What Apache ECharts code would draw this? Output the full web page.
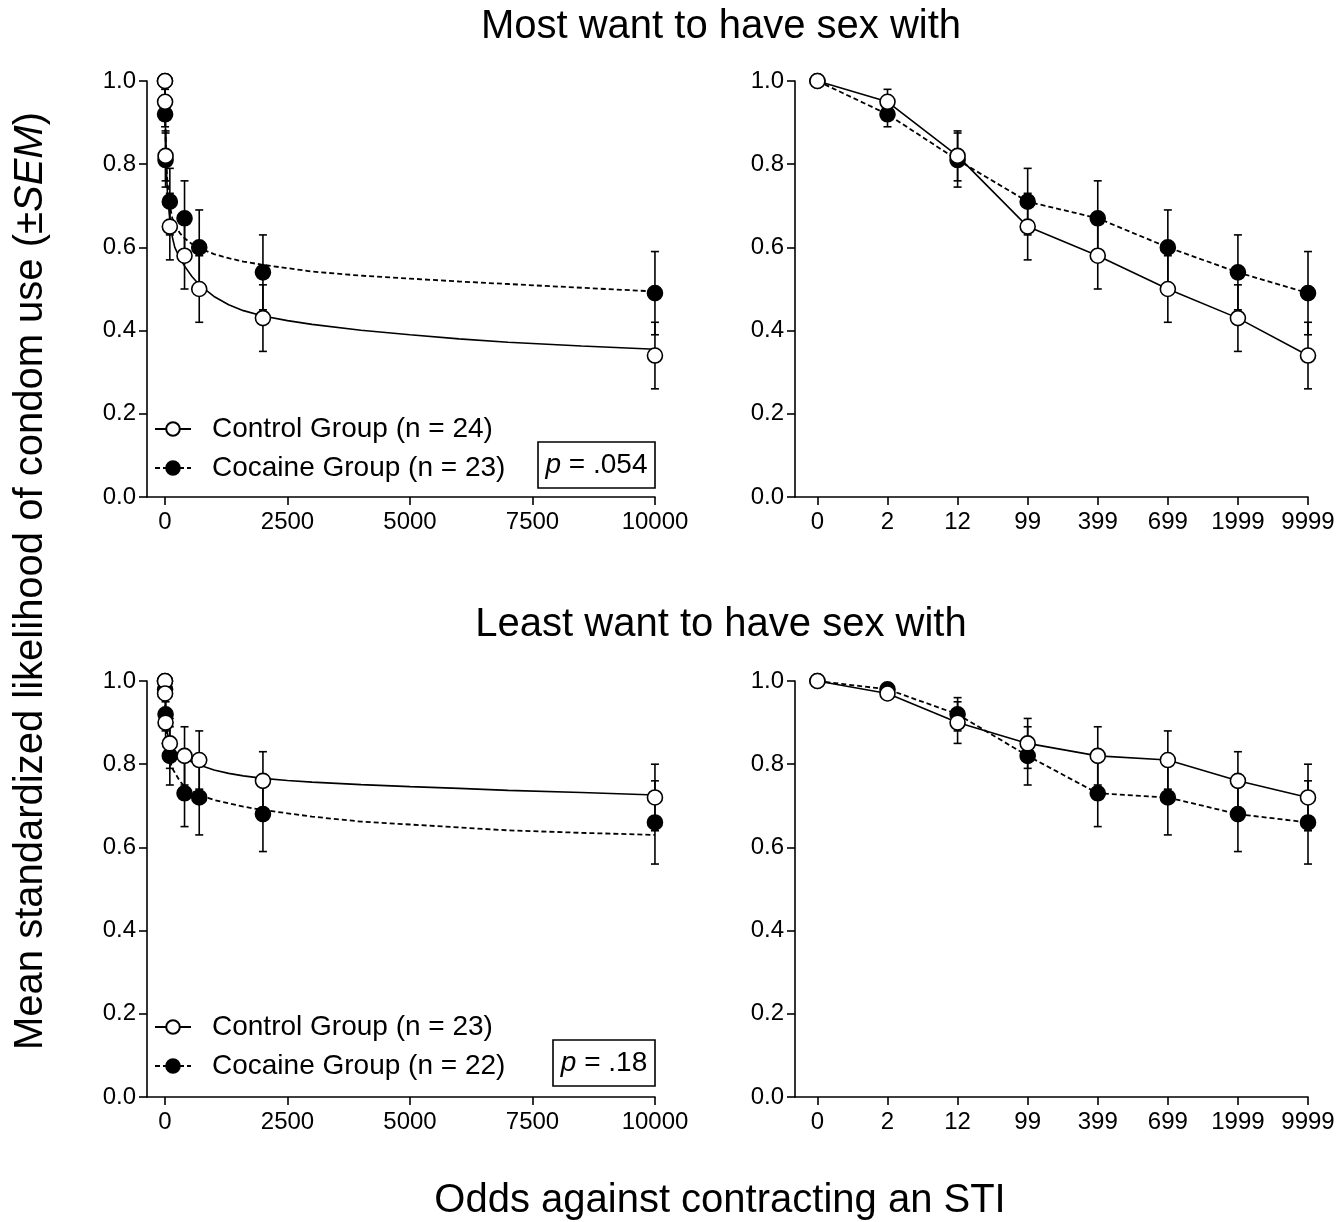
<!DOCTYPE html>
<html>
<head>
<meta charset="utf-8">
<script src="https://cdn.jsdelivr.net/npm/echarts@6/dist/echarts.min.js"></script>
<style>
html,body{margin:0;padding:0;background:#fff;}
#chart{width:1338px;height:1222px;}
</style>
</head>
<body>
<div id="chart"></div>
<script>
// ---------- data ----------
const odds = [0, 2, 12, 99, 399, 699, 1999, 9999];
const oddsLabels = ['0', '2', '12', '99', '399', '699', '1999', '9999'];
const leftTicks = [0, 2500, 5000, 7500, 10000];

const mostControl    = [1.00, 0.95, 0.82, 0.65, 0.58, 0.50, 0.43, 0.34];
const mostControlSem = [0, 0.03, 0.06, 0.08, 0.08, 0.08, 0.08, 0.08];
const mostCocaine    = [1.00, 0.92, 0.81, 0.71, 0.67, 0.60, 0.54, 0.49];
const mostCocaineSem = [0, 0.03, 0.065, 0.08, 0.09, 0.09, 0.09, 0.10];

const leastControl    = [1.00, 0.97, 0.90, 0.85, 0.82, 0.81, 0.76, 0.72];
const leastControlSem = [0, 0.01, 0.05, 0.06, 0.07, 0.07, 0.07, 0.08];
const leastCocaine    = [1.00, 0.98, 0.92, 0.82, 0.73, 0.72, 0.68, 0.66];
const leastCocaineSem = [0, 0.01, 0.04, 0.07, 0.08, 0.09, 0.09, 0.10];

// fitted curves (values at these odds)
const fitX = [0, 5, 12, 25, 50, 99, 150, 200, 300, 400, 550, 700, 1000, 1300, 1600, 2000, 2500, 3000, 4000, 5000, 6000, 7000, 8500, 10000];
const mostControlFit  = [1.00, 0.93, 0.87, 0.80, 0.73, 0.665, 0.625, 0.60, 0.575, 0.555, 0.53, 0.51, 0.482, 0.462, 0.448, 0.435, 0.424, 0.415, 0.401, 0.39, 0.38, 0.372, 0.363, 0.355];
const mostCocaineFit  = [1.00, 0.93, 0.87, 0.81, 0.755, 0.70, 0.67, 0.655, 0.635, 0.622, 0.608, 0.598, 0.584, 0.574, 0.566, 0.558, 0.55, 0.542, 0.532, 0.525, 0.518, 0.512, 0.503, 0.494];
const leastControlFit = [1.00, 0.96, 0.93, 0.90, 0.875, 0.85, 0.838, 0.83, 0.822, 0.815, 0.805, 0.798, 0.786, 0.778, 0.772, 0.766, 0.761, 0.757, 0.751, 0.746, 0.742, 0.737, 0.732, 0.726];
const leastCocaineFit = [1.00, 0.95, 0.91, 0.87, 0.84, 0.81, 0.79, 0.78, 0.76, 0.746, 0.735, 0.726, 0.714, 0.706, 0.698, 0.69, 0.682, 0.674, 0.662, 0.655, 0.648, 0.641, 0.635, 0.63];

const legendTop = ['Control Group (n = 24)', 'Cocaine Group (n = 23)'];
const legendBottom = ['Control Group (n = 23)', 'Cocaine Group (n = 22)'];
const pTop = '.054';
const pBottom = '.18';

// ---------- helpers ----------
const FONT = '"Liberation Sans", Arial, Helvetica, sans-serif';
const BLACK = '#000';

const chart = echarts.init(document.getElementById('chart'), null, {renderer: 'canvas'});

const grids = [
  {left: 147, top: 81, width: 508, height: 416},
  {left: 795, top: 81, width: 513, height: 416},
  {left: 147, top: 681, width: 508, height: 416},
  {left: 795, top: 681, width: 513, height: 416}
];

function yAxisDef(gi) {
  return {
    gridIndex: gi, type: 'value', min: 0, max: 1, interval: 0.2,
    axisLine: {show: true, onZero: false, lineStyle: {color: BLACK, width: 1.6}},
    axisTick: {show: true, inside: false, length: 8, lineStyle: {color: BLACK, width: 1.6}},
    axisLabel: {color: BLACK, fontSize: 24, margin: 11, fontFamily: FONT, formatter: v => v.toFixed(1)},
    splitLine: {show: false}
  };
}
function xLeftDef(gi) {
  return {
    gridIndex: gi, type: 'value', min: -367, max: 10000,
    axisLine: {show: true, onZero: false, lineStyle: {color: BLACK, width: 1.6}},
    axisTick: {show: true, inside: false, length: 8, customValues: leftTicks, lineStyle: {color: BLACK, width: 1.6}},
    axisLabel: {color: BLACK, fontSize: 24, margin: 13, fontFamily: FONT, customValues: leftTicks, formatter: v => String(v)},
    splitLine: {show: false}
  };
}
function xRightDef(gi) {
  const idx = oddsLabels.map((_, i) => i);
  return {
    gridIndex: gi, type: 'value', min: -0.32, max: 7,
    axisLine: {show: true, onZero: false, lineStyle: {color: BLACK, width: 1.6}},
    axisTick: {show: true, inside: false, length: 8, customValues: idx, lineStyle: {color: BLACK, width: 1.6}},
    axisLabel: {color: BLACK, fontSize: 24, margin: 13, fontFamily: FONT, customValues: idx, formatter: v => oddsLabels[Math.round(v)]},
    splitLine: {show: false}
  };
}

function errSeries(ai, xs, ys, sems, z) {
  return {
    type: 'custom', xAxisIndex: ai, yAxisIndex: ai, z: z, silent: true,
    encode: {x: 0, y: 1},
    data: xs.map((x, i) => [x, ys[i], sems[i]]),
    renderItem: function (params, api) {
      const x = api.value(0), y = api.value(1), e = api.value(2);
      if (!e) return null;
      const t = api.coord([x, y + e]);
      const b = api.coord([x, y - e]);
      const w = 4;
      const st = {stroke: BLACK, lineWidth: 1.6};
      return {type: 'group', children: [
        {type: 'line', shape: {x1: t[0], y1: t[1], x2: b[0], y2: b[1]}, style: st},
        {type: 'line', shape: {x1: t[0] - w, y1: t[1], x2: t[0] + w, y2: t[1]}, style: st},
        {type: 'line', shape: {x1: b[0] - w, y1: b[1], x2: b[0] + w, y2: b[1]}, style: st}
      ]};
    }
  };
}

const ctrlItem = {color: '#fff', borderColor: BLACK, borderWidth: 1.6, opacity: 1};
const cocItem = {color: BLACK, borderColor: BLACK, borderWidth: 1.6, opacity: 1};
const solidLine = {color: BLACK, width: 1.6, type: 'solid'};
const dashLine = {color: BLACK, width: 1.8, type: [5, 3]};
const SYM = 15;

function fitSeries(ai, name, ys, isCtrl, z) {
  return {
    type: 'line', name: name, xAxisIndex: ai, yAxisIndex: ai, z: z,
    data: fitX.map((x, i) => [x, ys[i]]),
    smooth: false,
    symbol: 'circle', symbolSize: SYM, showSymbol: false,
    itemStyle: isCtrl ? ctrlItem : cocItem,
    lineStyle: isCtrl ? solidLine : dashLine,
    silent: true
  };
}
function markerSeries(ai, ys, isCtrl, z) {
  return {
    type: 'scatter', xAxisIndex: ai, yAxisIndex: ai, z: z,
    data: odds.map((x, i) => [x, ys[i]]),
    symbol: 'circle', symbolSize: SYM,
    itemStyle: isCtrl ? ctrlItem : cocItem, silent: true
  };
}
function connSeries(ai, ys, isCtrl, z) {
  return {
    type: 'line', xAxisIndex: ai, yAxisIndex: ai, z: z,
    data: odds.map((_, i) => [i, ys[i]]),
    symbol: 'circle', symbolSize: SYM, showSymbol: true,
    itemStyle: isCtrl ? ctrlItem : cocItem,
    lineStyle: isCtrl ? solidLine : dashLine, silent: true
  };
}

function legendDef(names, top) {
  return {
    data: names, orient: 'vertical', left: 149, top: top,
    itemWidth: 36, itemHeight: 17, itemGap: 11, selectedMode: false,
    textStyle: {fontSize: 28, color: BLACK, fontFamily: FONT, padding: [0, 0, 0, 16]}
  };
}

function pBox(x, y, w, h, val) {
  return {
    type: 'group', children: [
      {type: 'rect', shape: {x: x, y: y, width: w, height: h}, style: {fill: '#fff', stroke: BLACK, lineWidth: 1.6}, z: 10},
      {type: 'text', x: x + w / 2, y: y + h / 2, z: 11, style: {
        text: '{i|p}{n| = ' + val + '}', align: 'center', verticalAlign: 'middle',
        rich: {
          i: {fontSize: 28, fontStyle: 'italic', fontFamily: FONT, fill: BLACK},
          n: {fontSize: 28, fontFamily: FONT, fill: BLACK}
        }
      }}
    ]
  };
}

const option = {
  animation: false,
  backgroundColor: '#fff',
  textStyle: {fontFamily: FONT},
  grid: grids,
  xAxis: [xLeftDef(0), xRightDef(1), xLeftDef(2), xRightDef(3)],
  yAxis: [yAxisDef(0), yAxisDef(1), yAxisDef(2), yAxisDef(3)],
  legend: [legendDef(legendTop, 410), legendDef(legendBottom, 1008)],
  series: [
    // top-left
    errSeries(0, odds, mostCocaine, mostCocaineSem, 1),
    errSeries(0, odds, mostControl, mostControlSem, 1),
    fitSeries(0, legendTop[1], mostCocaineFit, false, 2),
    fitSeries(0, legendTop[0], mostControlFit, true, 2),
    markerSeries(0, mostCocaine, false, 3),
    markerSeries(0, mostControl, true, 4),
    // top-right
    errSeries(1, odds.map((_, i) => i), mostCocaine, mostCocaineSem, 1),
    errSeries(1, odds.map((_, i) => i), mostControl, mostControlSem, 1),
    connSeries(1, mostCocaine, false, 3),
    connSeries(1, mostControl, true, 4),
    // bottom-left
    errSeries(2, odds, leastCocaine, leastCocaineSem, 1),
    errSeries(2, odds, leastControl, leastControlSem, 1),
    fitSeries(2, legendBottom[1], leastCocaineFit, false, 2),
    fitSeries(2, legendBottom[0], leastControlFit, true, 2),
    markerSeries(2, leastCocaine, false, 3),
    markerSeries(2, leastControl, true, 4),
    // bottom-right
    errSeries(3, odds.map((_, i) => i), leastCocaine, leastCocaineSem, 1),
    errSeries(3, odds.map((_, i) => i), leastControl, leastControlSem, 1),
    connSeries(3, leastCocaine, false, 3),
    connSeries(3, leastControl, true, 4)
  ],
  graphic: [
    {type: 'text', x: 721, y: 27, style: {text: 'Most want to have sex with', fontSize: 40, fontFamily: FONT, fill: BLACK, align: 'center', verticalAlign: 'middle'}},
    {type: 'text', x: 721, y: 625, style: {text: 'Least want to have sex with', fontSize: 40, fontFamily: FONT, fill: BLACK, align: 'center', verticalAlign: 'middle'}},
    {type: 'text', x: 720, y: 1201, style: {text: 'Odds against contracting an STI', fontSize: 40, fontFamily: FONT, fill: BLACK, align: 'center', verticalAlign: 'middle'}},
    {type: 'text', x: 31, y: 581, rotation: Math.PI / 2, style: {
      text: '{n|Mean standardized likelihood of condom use (±}{i|SEM}{n|)}', align: 'center', verticalAlign: 'middle',
      rich: {
        n: {fontSize: 40, fontFamily: FONT, fill: BLACK},
        i: {fontSize: 40, fontFamily: FONT, fontStyle: 'italic', fill: BLACK}
      }
    }},
    pBox(538, 442, 117, 46, pTop),
    pBox(553, 1040, 102, 46, pBottom)
  ]
};
chart.setOption(option);
</script>
</body>
</html>
